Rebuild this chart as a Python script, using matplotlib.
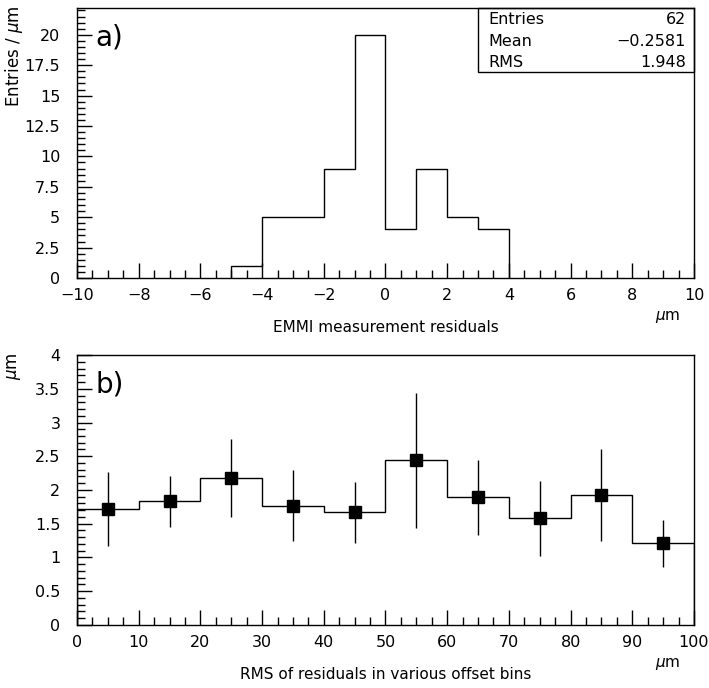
import matplotlib
matplotlib.use("Agg")
import matplotlib.pyplot as plt
from matplotlib.ticker import MultipleLocator, FuncFormatter

# histogram a): EMMI measurement residuals
bin_edges = [-5, -4, -3, -2, -1, 0, 1, 2, 3, 4]
counts = [1, 5, 5, 9, 20, 4, 9, 5, 4]
stats_names = ["Entries", "Mean", "RMS"]
stats_values = ["62", "\u22120.2581", "1.948"]

# profile b): RMS of residuals vs offset bin
offset_edges = [0, 10, 20, 30, 40, 50, 60, 70, 80, 90, 100]
offset_centers = [5, 15, 25, 35, 45, 55, 65, 75, 85, 95]
rms_values = [1.72, 1.83, 2.18, 1.77, 1.67, 2.44, 1.89, 1.58, 1.92, 1.21]
rms_errors = [0.55, 0.38, 0.58, 0.52, 0.45, 1.00, 0.55, 0.56, 0.68, 0.35]

plt.rcParams['font.family'] = 'DejaVu Sans'
plt.rcParams['font.size'] = 11

fig = plt.figure(figsize=(7.09, 6.88), dpi=100)
ax1 = fig.add_axes([0.1086, 0.5959, 0.8702, 0.3924])
ax2 = fig.add_axes([0.1086, 0.0916, 0.8702, 0.3924])

fmt = FuncFormatter(lambda v, p: ('%g' % v).replace('-', '\u2212'))


def style(ax):
    ax.tick_params(which='both', direction='in', top=False, right=False,
                   labelsize=11.5, color='black', width=1)
    ax.tick_params(which='major', length=11)
    ax.tick_params(which='minor', length=6)
    ax.tick_params(axis='x', which='major', pad=7)
    ax.tick_params(axis='y', which='major', pad=12)
    ax.xaxis.set_major_formatter(fmt)
    ax.yaxis.set_major_formatter(fmt)
    for s in ax.spines.values():
        s.set_linewidth(1)


# panel a
ax1.stairs(counts, bin_edges, color='black', linewidth=1)
ax1.set_xlim(-10, 10)
ax1.set_ylim(0, 22.2)
ax1.xaxis.set_major_locator(MultipleLocator(2))
ax1.xaxis.set_minor_locator(MultipleLocator(0.5))
ax1.yaxis.set_major_locator(MultipleLocator(2.5))
ax1.yaxis.set_minor_locator(MultipleLocator(0.5))
style(ax1)
ax1.text(0.03, 0.89, "a)", transform=ax1.transAxes, fontsize=20, va='center')
ax1.text(0.5, -0.185, "EMMI measurement residuals", transform=ax1.transAxes,
         ha='center', va='center', fontsize=11)
ax1.text(0.958, -0.145, r"$\mu$m", transform=ax1.transAxes, ha='center',
         va='center', fontsize=11)
ax1.text(-0.102, 1.01, r"Entries / $\mu$m", transform=ax1.transAxes,
         rotation=90, ha='center', va='top', fontsize=12)

# stats box
bx0, by1, bx1, by0 = 0.650, 1.0, 1.0, 0.763
ax1.add_patch(plt.Rectangle((bx0, by0), bx1 - bx0, by1 - by0,
                            transform=ax1.transAxes, fill=False,
                            edgecolor='black', linewidth=1, clip_on=False))
for i, (n, v) in enumerate(zip(stats_names, stats_values)):
    yy = by1 - (i + 0.55) * (by1 - by0) / 3
    ax1.text(bx0 + 0.016, yy, n, transform=ax1.transAxes, va='center',
             fontsize=11.5)
    ax1.text(bx1 - 0.013, yy, v, transform=ax1.transAxes, va='center',
             ha='right', fontsize=11.5)

# panel b
ax2.stairs(rms_values, offset_edges, color='black', linewidth=1)
ax2.errorbar(offset_centers, rms_values, yerr=rms_errors, fmt='s',
             color='black', markersize=9, elinewidth=1, capsize=0)
ax2.set_xlim(0, 100)
ax2.set_ylim(0, 4)
ax2.xaxis.set_major_locator(MultipleLocator(10))
ax2.xaxis.set_minor_locator(MultipleLocator(2.5))
ax2.yaxis.set_major_locator(MultipleLocator(0.5))
ax2.yaxis.set_minor_locator(MultipleLocator(0.1))
style(ax2)
ax2.text(0.03, 0.89, "b)", transform=ax2.transAxes, fontsize=20, va='center')
ax2.text(0.5, -0.185, "RMS of residuals in various offset bins",
         transform=ax2.transAxes, ha='center', va='center', fontsize=11)
ax2.text(0.958, -0.145, r"$\mu$m", transform=ax2.transAxes, ha='center',
         va='center', fontsize=11)
ax2.text(-0.102, 1.01, r"$\mu$m", transform=ax2.transAxes,
         rotation=90, ha='center', va='top', fontsize=12)

fig.savefig("out.png", dpi=100)
